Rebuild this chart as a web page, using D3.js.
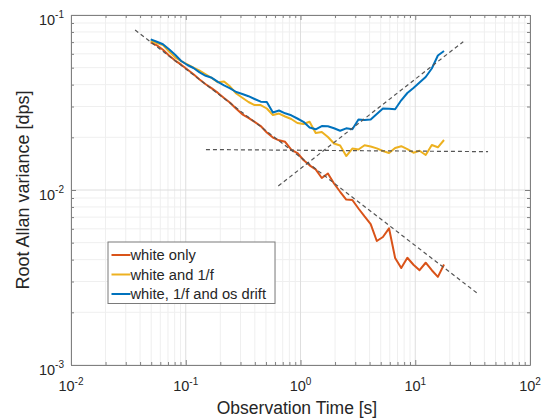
<!DOCTYPE html>
<html>
<head>
<meta charset="utf-8">
<script src="https://cdn.jsdelivr.net/npm/d3@7"></script>
<style>
  body { margin: 0; background: #fff; }
  svg { display: block; font-family: "Liberation Sans", Arial, sans-serif; }
</style>
</head>
<body>
<div id="chart"></div>
<script>
// averaging times [s]
const tau = [0.0495, 0.0560, 0.0633, 0.0715, 0.0808, 0.0913, 0.1033, 0.1168, 0.1320, 0.1492,
  0.1687, 0.1907, 0.2156, 0.2436, 0.2754, 0.3113, 0.3520, 0.3979, 0.4498, 0.5085,
  0.5748, 0.6498, 0.7346, 0.8304, 0.9389, 1.061, 1.200, 1.356, 1.533, 1.733,
  1.959, 2.215, 2.504, 2.830, 3.200, 3.617, 4.089, 4.623, 5.226, 5.907,
  6.678, 7.549, 8.534, 9.645, 10.90, 12.33, 13.94, 15.75, 17.81];

const whiteOnly = [0.06982, 0.06713, 0.06333, 0.05869, 0.05488, 0.05200, 0.04882, 0.04582, 0.04280, 0.04023,
  0.03806, 0.03588, 0.03354, 0.03150, 0.02911, 0.02707, 0.02585, 0.02449, 0.02320, 0.02131,
  0.01993, 0.01923, 0.01885, 0.01703, 0.01627, 0.01484, 0.01384, 0.01311, 0.01171, 0.01243,
  0.01089, 0.00977, 0.00882, 0.00877, 0.00784, 0.00706, 0.00639, 0.00511, 0.00539, 0.00604,
  0.00409, 0.00358, 0.00410, 0.00374, 0.00348, 0.00384, 0.00348, 0.00319, 0.00375];

const whiteFlicker = [0.07102, 0.06918, 0.06739, 0.06185, 0.05731, 0.05445, 0.05228, 0.05006, 0.04805, 0.04582,
  0.04365, 0.04124, 0.04169, 0.03898, 0.03559, 0.03368, 0.03183, 0.03059, 0.03059, 0.02922,
  0.02682, 0.02735, 0.02630, 0.02545, 0.02415, 0.02383, 0.02456, 0.02117, 0.02145, 0.02009,
  0.01843, 0.01796, 0.01564, 0.01725, 0.01703, 0.01803, 0.01773, 0.01730, 0.01670, 0.01627,
  0.01738, 0.01780, 0.01714, 0.01633, 0.01675, 0.01585, 0.01807, 0.01754, 0.01931];

const whiteFlickerDrift = [0.07263, 0.07029, 0.06801, 0.06368, 0.05923, 0.05459, 0.05179, 0.04978, 0.04699, 0.04493,
  0.04376, 0.04146, 0.03965, 0.03811, 0.03631, 0.03537, 0.03436, 0.03311, 0.03196, 0.03183,
  0.02772, 0.02846, 0.02743, 0.02672, 0.02562, 0.02453, 0.02275, 0.02222, 0.02320, 0.02312,
  0.02254, 0.02182, 0.02251, 0.02225, 0.02529, 0.02512, 0.02529, 0.02718, 0.02922, 0.02911,
  0.02892, 0.03255, 0.03583, 0.03826, 0.04114, 0.04422, 0.04946, 0.05869, 0.06226];

const seriesNames = ["white only", "white and 1/f", "white, 1/f and os drift"];

// dashed fit lines (end points)
const fitWhiteTau = [0.0362, 34.5];
const fitWhiteVal = [0.0821, 0.002577];
const fitFlickerTau = [0.150, 43.1];
const fitFlickerVal = [0.01703, 0.01656];
const fitDriftTau = [0.640, 26.2];
const fitDriftVal = [0.01054, 0.0704];

const xTicks = [1e-2, 1e-1, 1e0, 1e1, 1e2];
const xTickExp = ["-2", "-1", "0", "1", "2"];
const yTicks = [1e-3, 1e-2, 1e-1];
const yTickExp = ["-3", "-2", "-1"];

const margin = { top: 15, right: 17, bottom: 55, left: 71 };
const width = 547 - margin.left - margin.right;
const height = 420 - margin.top - margin.bottom;

const colors = ["#D95319", "#EDB120", "#0072BD"];
const axisColor = "#808080";
const textColor = "#262626";

const svg = d3.select("#chart").append("svg")
    .attr("width", 547)
    .attr("height", 420);

const g = svg.append("g")
    .attr("transform", `translate(${margin.left},${margin.top})`);

const x = d3.scaleLog().domain([1e-2, 1e2]).range([0, width]);
const y = d3.scaleLog().domain([1e-3, 1e-1]).range([height, 0]);

const xMinor = x.ticks().filter(v => !xTicks.some(t => Math.abs(t - v) / t < 1e-6));
const yMinor = y.ticks().filter(v => !yTicks.some(t => Math.abs(t - v) / t < 1e-6));

// grid
const grid = g.append("g");
grid.selectAll(".gx-minor").data(xMinor).enter().append("line")
    .attr("x1", d => x(d)).attr("x2", d => x(d))
    .attr("y1", 0).attr("y2", height)
    .attr("stroke", "#efefef");
grid.selectAll(".gy-minor").data(yMinor).enter().append("line")
    .attr("y1", d => y(d)).attr("y2", d => y(d))
    .attr("x1", 0).attr("x2", width)
    .attr("stroke", "#efefef");
grid.selectAll(".gx").data(xTicks).enter().append("line")
    .attr("x1", d => x(d)).attr("x2", d => x(d))
    .attr("y1", 0).attr("y2", height)
    .attr("stroke", "#dedede");
grid.selectAll(".gy").data(yTicks).enter().append("line")
    .attr("y1", d => y(d)).attr("y2", d => y(d))
    .attr("x1", 0).attr("x2", width)
    .attr("stroke", "#dedede");

// series
const line = d3.line()
    .x(d => x(d[0]))
    .y(d => y(d[1]));

[whiteOnly, whiteFlicker, whiteFlickerDrift].forEach((vals, i) => {
    g.append("path")
        .datum(tau.map((t, j) => [t, vals[j]]))
        .attr("fill", "none")
        .attr("stroke", colors[i])
        .attr("stroke-width", 2)
        .attr("stroke-linejoin", "round")
        .attr("d", line);
});

// fits
[[fitWhiteTau, fitWhiteVal], [fitFlickerTau, fitFlickerVal], [fitDriftTau, fitDriftVal]].forEach(([ts, vs]) => {
    g.append("path")
        .datum(ts.map((t, j) => [t, vs[j]]))
        .attr("fill", "none")
        .attr("stroke", "#555")
        .attr("stroke-width", 1.2)
        .attr("stroke-dasharray", "4,3")
        .attr("d", line);
});

// axes (ticks inward on all four sides)
const drawAxis = (axisGen, transform, major, minor) => {
    const a = g.append("g").attr("transform", transform);
    a.call(axisGen.tickValues(major).tickSizeInner(-5).tickSizeOuter(0).tickFormat(() => ""));
    a.append("g").call(axisGen.tickValues(minor).tickSizeInner(-3).tickFormat(() => ""))
        .select(".domain").remove();
    a.selectAll("path, line").attr("stroke", axisColor);
    a.selectAll("text").remove();
    return a;
};
drawAxis(d3.axisBottom(x), `translate(0,${height})`, xTicks, xMinor);
drawAxis(d3.axisTop(x), "translate(0,0)", xTicks, xMinor);
drawAxis(d3.axisLeft(y), "translate(0,0)", yTicks, yMinor);
drawAxis(d3.axisRight(y), `translate(${width},0)`, yTicks, yMinor);

// tick labels 10^n
const xl = g.append("g").attr("fill", textColor).style("font-size", "14.5px");
xl.selectAll("text").data(xTicks).enter().append("text")
    .attr("x", d => x(d))
    .attr("y", height + 26)
    .attr("text-anchor", "middle")
    .each(function (d, i) {
        const t = d3.select(this);
        t.append("tspan").text("10");
        t.append("tspan").attr("dy", -6.5).style("font-size", "10px").text(xTickExp[i]);
    });

const yl = g.append("g").attr("fill", textColor).style("font-size", "14.5px");
yl.selectAll("text").data(yTicks).enter().append("text")
    .attr("x", -7)
    .attr("y", d => y(d) + 9.5)
    .attr("text-anchor", "end")
    .each(function (d, i) {
        const t = d3.select(this);
        t.append("tspan").text("10");
        t.append("tspan").attr("dy", -6.5).style("font-size", "10px").text(yTickExp[i]);
    });

// axis titles
g.append("text")
    .attr("x", 226)
    .attr("y", height + 49)
    .attr("text-anchor", "middle")
    .attr("fill", textColor)
    .style("font-size", "17.5px")
    .text("Observation Time [s]");

g.append("text")
    .attr("transform", `translate(-42,${height / 2}) rotate(-90)`)
    .attr("text-anchor", "middle")
    .attr("fill", textColor)
    .style("font-size", "18px")
    .text("Root Allan variance [dps]");

// legend
const legend = g.append("g").attr("transform", "translate(37,227)");
legend.append("rect")
    .attr("x", 0).attr("y", 0)
    .attr("width", 167).attr("height", 61.5)
    .attr("fill", "#fff")
    .attr("stroke", "#7a7a7a");
const item = legend.selectAll(".item").data(seriesNames).enter().append("g")
    .attr("transform", (d, i) => `translate(0,${13 + i * 19.5})`);
item.append("line")
    .attr("x1", 3.5).attr("x2", 22.5)
    .attr("stroke", (d, i) => colors[i])
    .attr("stroke-width", 2);
item.append("text")
    .attr("x", 22.5).attr("y", 5)
    .attr("fill", textColor)
    .style("font-size", "14.7px")
    .text(d => d);
</script>
</body>
</html>
